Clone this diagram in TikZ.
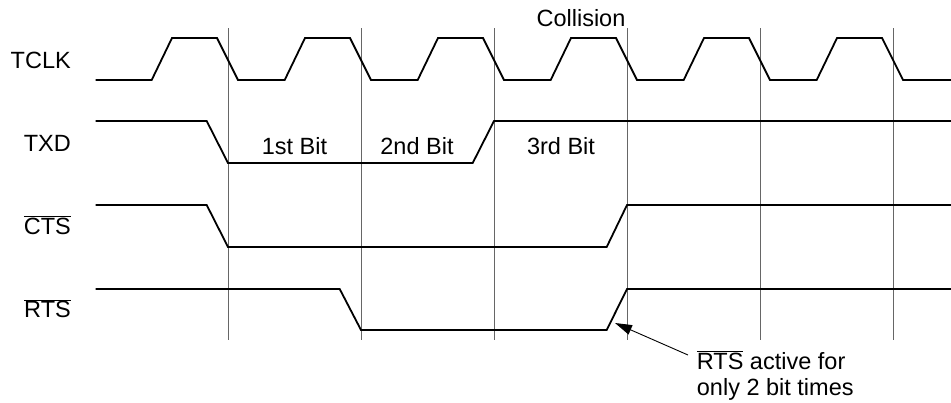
\documentclass[tikz,border=0pt]{standalone}
\usepackage{fontspec}
\setmainfont{Liberation Sans}
\usetikzlibrary{arrows.meta}
\newcommand\ovl[1]{$\overline{\hbox{#1}}$}
\begin{document}
\begin{tikzpicture}[x=1pt,y=-1pt,
  sig/.style={line width=1.8pt,line join=miter},
  grid/.style={line width=1pt,draw=black!60},
  lbl/.style={font=\fontsize{23.5}{26}\selectfont,inner sep=0pt},
  ann/.style={line width=0.9pt,-{Triangle[length=17pt,width=10pt]}}]
\useasboundingbox (0,0) rectangle (951,402);
% grid lines
\foreach \x in {228,361,494,627,760,893}{\draw[grid] (\x,28) -- (\x,340);}
% TCLK
\draw[sig] (95.5,80)
  \foreach \k in {0,...,5}{ -- ({151.7+133*\k},80) -- ({172+133*\k},38) -- ({217+133*\k},38) -- ({238+133*\k},80)}
  -- (951,80);
% TXD
\draw[sig] (95.5,121) -- (206.7,121) -- (228,163) -- (472.7,163) -- (494,121) -- (951,121);
% CTS
\draw[sig] (95.5,205) -- (206.7,205) -- (228,247) -- (606.7,247) -- (627,205) -- (951,205);
% RTS
\draw[sig] (95.5,289) -- (339.7,289) -- (361,330) -- (606.7,330) -- (627,289) -- (951,289);
% labels
\node[lbl,anchor=base east] (tclk) at (71,68.3) {TCLK};
\node[lbl,anchor=base east] (txd) at (71,151) {TXD};
\node[lbl,anchor=base east] (cts) at (71,234) {\ovl{CTS}};
\node[lbl,anchor=base east] (rts) at (71,317.7) {\ovl{RTS}};
\node[lbl] (b1) at (294.5,146) {1st Bit};
\node[lbl] (b2) at (417,146) {2nd Bit};
\node[lbl] (b3) at (561,146) {3rd Bit};
\node[lbl] (coll) at (581,18) {Collision};
\node[lbl,anchor=base west] (note1) at (696.7,369.3) {\ovl{RTS} active for};
\node[lbl,anchor=base west] (note2) at (696.7,395) {only 2 bit times};
\coordinate (tip) at (615,323);
\coordinate (tail) at (688,355);
\draw[ann] (tail) -- (tip);
\end{tikzpicture}
\end{document}
